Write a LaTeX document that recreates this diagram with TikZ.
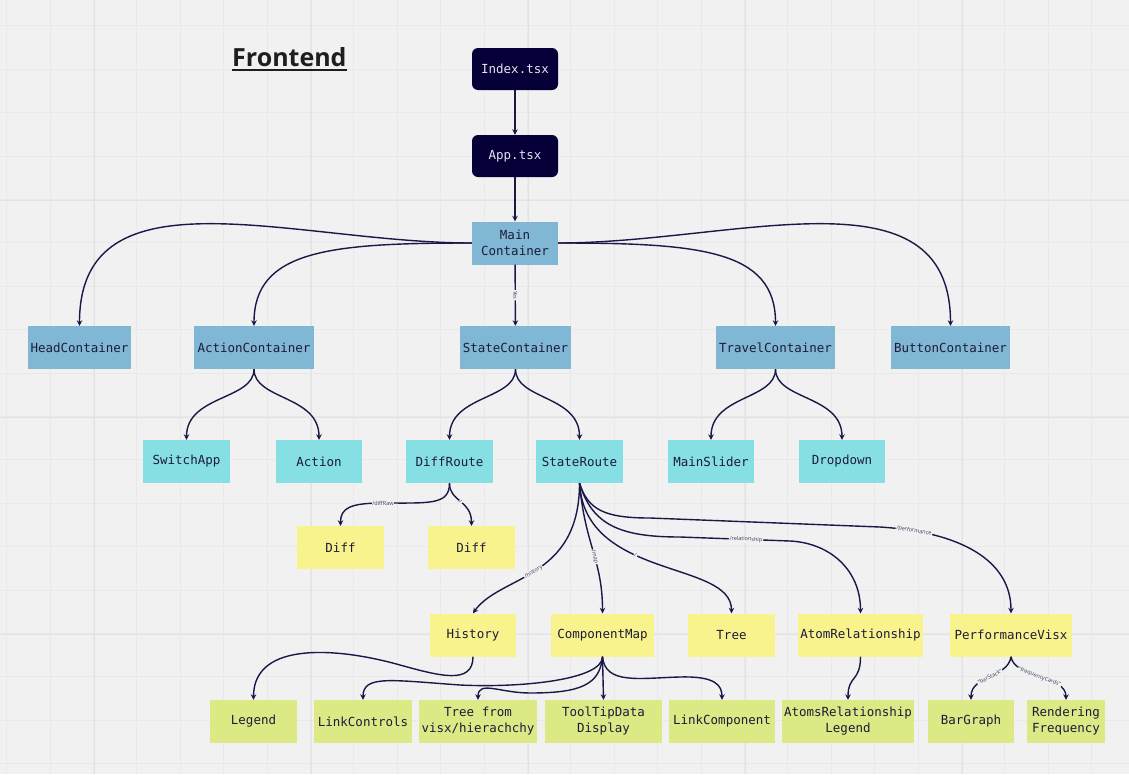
\documentclass[tikz,border=0pt]{standalone}
\usepackage{fontspec}
\setmonofont{DejaVu Sans Mono}
\newfontfamily\titlefont{Open Sans}
\newfontfamily\lblfont{Open Sans}
\usetikzlibrary{arrows.meta}
\definecolor{bgc}{HTML}{F1F1F1}
\definecolor{gridminor}{HTML}{E9E9E9}
\definecolor{gridmajor}{HTML}{E2E2E2}
\definecolor{navy}{HTML}{050038}
\definecolor{edgec}{HTML}{1A1847}
\definecolor{steel}{HTML}{80B7D5}
\definecolor{cyanbox}{HTML}{86E0E3}
\definecolor{yellowbox}{HTML}{F8F38C}
\definecolor{limebox}{HTML}{DCE985}
\definecolor{boxtext}{HTML}{1E1B3A}
\definecolor{lbltext}{HTML}{3C3A5C}
\definecolor{titlec}{HTML}{1E1E1E}
\begin{document}
\begin{tikzpicture}[x=1pt,y=-1pt,
  box/.style={minimum height=43pt, inner sep=0pt, align=center,
    font=\ttfamily\fontsize{12.5}{16}\selectfont, text=boxtext},
  darkbox/.style={box, fill=navy, rounded corners=6pt, text=white!90!navy,
    minimum width=86pt, minimum height=42pt},
  bluebox/.style={box, fill=steel},
  cyanb/.style={box, fill=cyanbox, minimum width=87pt},
  yellowb/.style={box, fill=yellowbox},
  limeb/.style={box, fill=limebox},
  edge/.style={draw=edgec, line width=1.4pt, -{Stealth[length=5.5pt,width=5.5pt]}},
  elabel/.style={font=\lblfont\fontsize{5.5}{6}\selectfont, text=lbltext, fill=bgc, inner sep=0.8pt},
  gminor/.style={draw=gridminor, line width=0.8pt},
  gmajor/.style={draw=gridmajor, line width=1pt},
]
% background and grid
\fill[bgc] (0,0) rectangle (1129,774);
\path[use as bounding box] (0,0) rectangle (1129,774);
\foreach \i in {0,...,25} {
  \draw[gminor] ({6.6+43.4*\i},0) -- ({6.6+43.4*\i},774);
}
\foreach \j in {0,...,17} {
  \draw[gminor] (0,{25.8+43.4*\j}) -- (1129,{25.8+43.4*\j});
}
\foreach \i in {0,...,4} {
  \draw[gmajor] ({94+217*\i},0) -- ({94+217*\i},774);
}
\foreach \j in {0,...,2} {
  \draw[gmajor] (0,{200+217*\j}) -- (1129,{200+217*\j});
}

% title
\node[anchor=base west, inner sep=0pt, text=titlec,
  font=\titlefont\bfseries\fontsize{25}{30}\selectfont] (title) at (232,66.5) {Frontend};
\draw[titlec, line width=2pt] ([yshift=-3pt]title.base west) -- ([yshift=-3pt]title.base east);

% nodes
\node[darkbox] (idx) at (515,69) {Index.tsx};
\node[darkbox] (app) at (515,156) {App.tsx};
\node[bluebox, minimum width=86pt] (main) at (515,243) {Main\\Container};

\node[bluebox, minimum width=103pt] (head) at (79.5,347.5) {HeadContainer};
\node[bluebox, minimum width=120pt] (action) at (254,347.5) {ActionContainer};
\node[bluebox, minimum width=111pt] (state) at (515.5,347.5) {StateContainer};
\node[bluebox, minimum width=119pt] (travel) at (775.5,347.5) {TravelContainer};
\node[bluebox, minimum width=119pt] (button) at (950.5,347.5) {ButtonContainer};

\node[cyanb] (switch) at (186.5,461.5) {SwitchApp};
\node[cyanb, minimum width=86pt] (act) at (319,461.5) {Action};
\node[cyanb] (diffroute) at (449.5,461.5) {DiffRoute};
\node[cyanb] (stateroute) at (579.5,461.5) {StateRoute};
\node[cyanb, minimum width=86pt] (mainslider) at (711,461.5) {MainSlider};
\node[cyanb, minimum width=86pt] (dropdown) at (842,461.5) {Dropdown};

\node[yellowb, minimum width=87pt] (diffa) at (340.5,547.5) {Diff};
\node[yellowb, minimum width=87pt] (diffb) at (471.5,547.5) {Diff};

\node[yellowb, minimum width=86pt] (history) at (473,635) {History};
\node[yellowb, minimum width=103pt] (compmap) at (602.5,635) {ComponentMap};
\node[yellowb, minimum width=87pt] (tree) at (731.5,635) {Tree};
\node[yellowb, minimum width=125pt] (atomrel) at (860.5,635) {AtomRelationship};
\node[yellowb, minimum width=122pt] (perf) at (1011,635) {PerformanceVisx};

\node[limeb, minimum width=87pt] (legend) at (253.5,721.5) {Legend};
\node[limeb, minimum width=98pt] (linkctrl) at (363,721.5) {LinkControls};
\node[limeb, minimum width=118pt] (treevisx) at (478,721.5) {Tree from\\visx/hierachchy};
\node[limeb, minimum width=117pt] (tooltip) at (603.5,721.5) {ToolTipData\\Display};
\node[limeb, minimum width=106pt] (linkcomp) at (722,721.5) {LinkComponent};
\node[limeb, minimum width=132pt] (atomsleg) at (848,721.5) {AtomsRelationship\\Legend};
\node[limeb, minimum width=86pt] (bargraph) at (971,721.5) {BarGraph};
\node[limeb, minimum width=78pt] (rendfreq) at (1066,721.5) {Rendering\\Frequency};

% edges: top
\draw[edge] (idx) -- (app);
\draw[edge] (app) -- (main);
\draw[edge] (main.west) .. controls (295,243) and (79.5,165) .. (head.north);
\draw[edge] (main.west) .. controls (330,243) and (254,250) .. (action.north);
\draw[edge] (main) -- (state) node[elabel, midway, sloped] {Yes};
\draw[edge] (main.east) .. controls (700,243) and (775.5,250) .. (travel.north);
\draw[edge] (main.east) .. controls (735,243) and (950.5,165) .. (button.north);

% row 2 -> row 3
\draw[edge] (action.south) .. controls (254,400) and (186.5,395) .. (switch.north);
\draw[edge] (action.south) .. controls (254,400) and (319,395) .. (act.north);
\draw[edge] (state.south) .. controls (515.5,400) and (449.5,395) .. (diffroute.north);
\draw[edge] (state.south) .. controls (515.5,400) and (579.5,395) .. (stateroute.north);
\draw[edge] (travel.south) .. controls (775.5,400) and (711,395) .. (mainslider.north);
\draw[edge] (travel.south) .. controls (775.5,400) and (842,395) .. (dropdown.north);

% DiffRoute
\draw[edge] (diffroute.south) .. controls (449.5,505) and (430,503) .. (383,503)
  node[elabel, pos=1] {/diffRaw}
  .. controls (350,503) and (340.5,508) .. (diffa.north);
\draw[edge] (diffroute.south) .. controls (449.5,502) and (471.5,500) .. (diffb.north)
  node[elabel, pos=0.5, sloped] {/};

% StateRoute fan
\draw[edge] (stateroute.south) .. controls (579.5,580) and (500,575) .. (history.north)
  node[elabel, pos=0.52, sloped] {/history};
\draw[edge] (stateroute.south) .. controls (585,545) and (602.5,560) .. (compmap.north)
  node[elabel, pos=0.55, sloped] {/map};
\draw[edge] (stateroute.south) .. controls (585,580) and (731.5,560) .. (tree.north)
  node[elabel, pos=0.4, sloped] {/};
\draw[edge] (stateroute.south) .. controls (592,525) and (620,537) .. (680,537)
  -- (790,541) node[elabel, pos=0.6, sloped] {/relationship}
  .. controls (830,543) and (860.5,570) .. (atomrel.north);
\draw[edge] (stateroute.south) .. controls (588,510) and (605,518) .. (650,518)
  -- (880,527) .. controls (960,532) and (1011,560) .. (perf.north)
  node[elabel, pos=0.15, sloped] {/performance};

% row 4 -> row 5
\draw[edge] (history.south) .. controls (473,685) and (440,676) .. (400,665)
  .. controls (340,648) and (253.5,640) .. (legend.north);
\draw[edge] (compmap.south) .. controls (602.5,680) and (520,688) .. (460,685)
  .. controls (390,680) and (363,675) .. (linkctrl.north);
\draw[edge] (compmap.south) .. controls (600,685) and (580,693) .. (530,693)
  .. controls (500,693) and (478,680) .. (treevisx.north);
\draw[edge] (compmap.south) -- (tooltip.north);
\draw[edge] (compmap.south) .. controls (605,685) and (640,678) .. (680,677)
  .. controls (715,676) and (722,685) .. (linkcomp.north);
\draw[edge] (atomrel.south) .. controls (860.5,682) and (848,675) .. (atomsleg.north);
\draw[edge] (perf.south) .. controls (1008,678) and (971,675) .. (bargraph.north)
  node[elabel, pos=0.5, sloped] {"barStack"};
\draw[edge] (perf.south) .. controls (1014,678) and (1066,675) .. (rendfreq.north)
  node[elabel, pos=0.5, sloped] {"frequencyCards"};
\end{tikzpicture}
\end{document}
